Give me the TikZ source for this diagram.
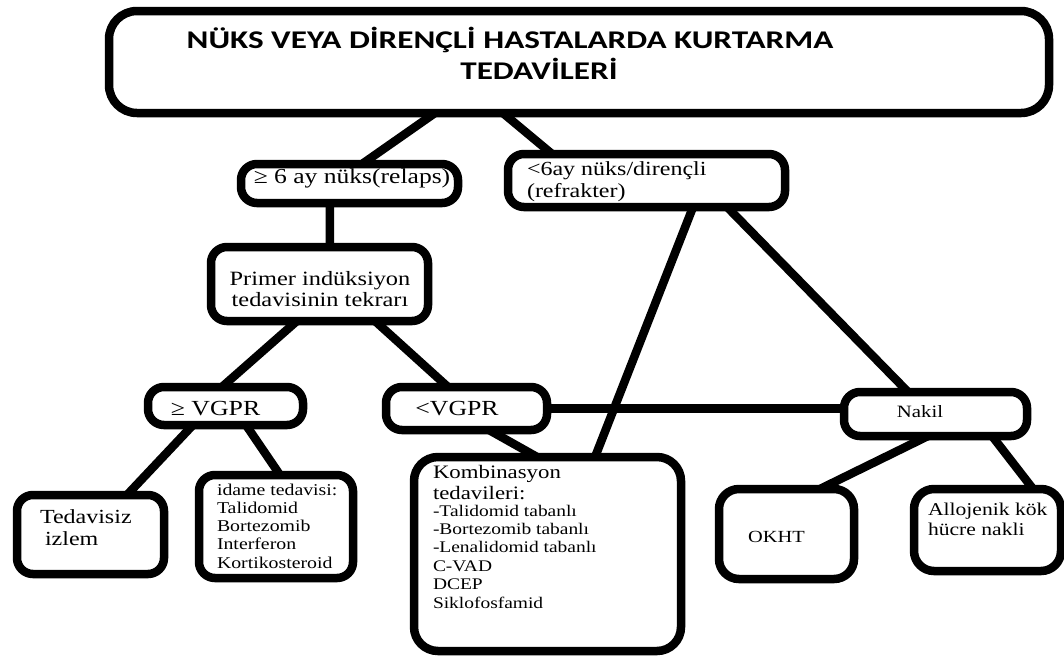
\documentclass[tikz,border=0pt]{standalone}
\usepackage{fontspec}
\setmainfont{Liberation Serif}[FakeStretch=1.2]
\newfontfamily\headfont{Carlito}[FakeStretch=1.3]
\usetikzlibrary{calc}

% font size / baseline skip in pt
\newcommand\fs[2]{\fontsize{#1pt}{#2pt}\selectfont}
% fixed-size, top-aligned text block: width, height, top gap, content
\newcommand\cbox[4]{\parbox[c][#2pt][t]{#1pt}{\raggedright\vspace*{#3pt}#4}}

\tikzset{
  flowbox/.style={draw=black, line width=8.5pt, rounded corners=16pt,
                  inner sep=0pt, outer sep=0pt},
  link/.style={draw=black, line width=8.5pt},
}

\begin{document}
\begin{tikzpicture}[x=1pt, y=-1pt]
\fill[white] (0,0) rectangle (1064,657);
\useasboundingbox (0,0) rectangle (1064,657);

% ---- boxes ----
\node[flowbox, rounded corners=28pt, minimum width=940pt, minimum height=102pt] (title) at (579,62)
  {\cbox{940}{102}{16}{\headfont\bfseries\fs{25.5}{30}\strut\hspace*{401pt}\makebox[0pt]{NÜKS VEYA DİRENÇLİ HASTALARDA KURTARMA}\\
   \strut\hspace*{430pt}\makebox[0pt]{TEDAVİLERİ}}};

\node[flowbox, minimum width=217pt, minimum height=39pt] (relapse) at (349.5,183.5)
  {\cbox{217}{39}{2.2}{\fs{21.3}{24}\strut\hspace*{111pt}\makebox[0pt]{≥ 6 ay nüks(relaps)}}};

\node[flowbox, minimum width=277pt, minimum height=53pt] (refract) at (646.5,180.5)
  {\cbox{277}{53}{5.6}{\leftskip=19pt\fs{20}{22}\strut <6ay nüks/dirençli\\(refrakter)}};

\node[flowbox, minimum width=217pt, minimum height=74pt] (primer) at (319.5,284)
  {\cbox{217}{74}{24}{\fs{20.3}{20}\strut\hspace*{109pt}\makebox[0pt]{Primer indüksiyon}\\
   \strut\hspace*{109pt}\makebox[0pt]{tedavisinin tekrarı}}};

\node[flowbox, minimum width=155pt, minimum height=38pt] (vgprhi) at (225.5,406)
  {\cbox{155}{38}{11.2}{\fs{21.5}{24}\strut\hspace*{67.5pt}\makebox[0pt]{≥ VGPR}}};

\node[flowbox, minimum width=161pt, minimum height=43pt] (vgprlo) at (466.5,408.5)
  {\cbox{161}{43}{11.2}{\fs{21.5}{24}\strut\hspace*{71pt}\makebox[0pt]{<VGPR}}};

\node[flowbox, minimum width=147pt, minimum height=79pt] (notx) at (90.5,534.5)
  {\cbox{147}{79}{12.6}{\fs{20}{22}\strut\hspace*{23pt}Tedavisiz\\\hspace*{28pt}izlem}};

\node[flowbox, minimum width=154pt, minimum height=103pt] (maint) at (276,526.5)
  {\cbox{154}{103}{7.2}{\leftskip=18pt\fs{16.5}{18.3}\strut idame tedavisi:\\Talidomid\\Bortezomib\\Interferon\\Kortikosteroid}};

\node[flowbox, rounded corners=24pt, minimum width=267pt, minimum height=194pt] (combo) at (547.5,554)
  {\cbox{267}{194}{6.3}{\leftskip=19pt\fs{19}{21}\strut Kombinasyon\\tedavileri:\par
   \fs{16.2}{18.4}\vspace{-1.4pt}-Talidomid tabanlı\\-Bortezomib tabanlı\\-Lenalidomid tabanlı\\C-VAD\\DCEP\\Siklofosfamid}};

\node[flowbox, minimum width=183pt, minimum height=44pt] (transplant) at (935.5,414)
  {\cbox{183}{44}{11.7}{\fs{17.3}{19}\strut\hspace*{76pt}\makebox[0pt]{Nakil}}};

\node[flowbox, rounded corners=20pt, minimum width=135pt, minimum height=90pt] (okht) at (786.5,534)
  {\cbox{135}{90}{39.7}{\fs{17}{19}\strut\hspace*{57.5pt}\makebox[0pt]{OKHT}}};

\node[flowbox, rounded corners=20pt, minimum width=147pt, minimum height=82pt] (allo) at (987.5,530)
  {\cbox{147}{82}{12}{\leftskip=14pt\fs{18}{20}\strut Allojenik kök\\hücre nakli}};

% ---- connectors ----
\draw[link] ($(title.south west)!0.3468!(title.south east)$) -- ($(relapse.north west)!0.558!(relapse.north east)$);
\draw[link] ($(title.south west)!0.419!(title.south east)$) -- ($(refract.north west)!0.159!(refract.north east)$);
\draw[link] ($(relapse.south west)!0.410!(relapse.south east)$) -- ($(primer.north west)!0.548!(primer.north east)$);
\draw[link] ($(primer.south west)!0.396!(primer.south east)$) -- ($(vgprhi.north west)!0.477!(vgprhi.north east)$);
\draw[link] ($(primer.south west)!0.756!(primer.south east)$) -- ($(vgprlo.north west)!0.385!(vgprlo.north east)$);
\draw[link] ($(vgprhi.south west)!0.29!(vgprhi.south east)$) -- ($(notx.north west)!0.748!(notx.north east)$);
\draw[link] ($(vgprhi.south west)!0.632!(vgprhi.south east)$) -- ($(maint.north west)!0.526!(maint.north east)$);
\draw[link] ($(vgprlo.south west)!0.640!(vgprlo.south east)$) -- ($(combo.north west)!0.461!(combo.north east)$);
\draw[link] ($(refract.south west)!0.668!(refract.south east)$) -- ($(combo.north west)!0.678!(combo.north east)$);
\draw[link] ($(refract.south west)!0.791!(refract.south east)$) -- ($(transplant.north west)!0.350!(transplant.north east)$);
\draw[link] (vgprlo.east) -- (vgprlo.east -| transplant.west);
\draw[link] ($(transplant.south west)!0.459!(transplant.south east)$) -- ($(okht.north west)!0.748!(okht.north east)$);
\draw[link] ($(transplant.south west)!0.809!(transplant.south east)$) -- ($(allo.north west)!0.81!(allo.north east)$);
\end{tikzpicture}
\end{document}
